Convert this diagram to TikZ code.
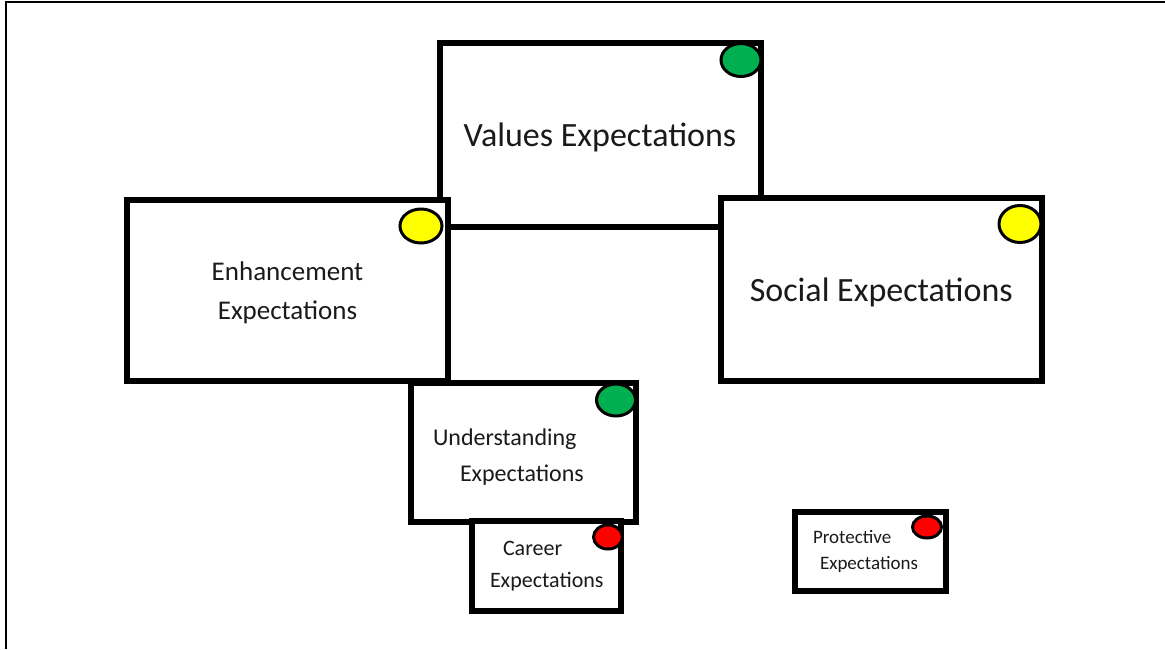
\documentclass[tikz,border=0pt]{standalone}
\usepackage{fontspec}
\setmainfont{Carlito}
\usepackage{tikz}
\usetikzlibrary{shapes.geometric, positioning, calc}
\definecolor{ink}{HTML}{1A1A1A}
\definecolor{go}{HTML}{00B050}
\definecolor{caution}{HTML}{FFFF00}
\definecolor{halt}{HTML}{FF0000}
\tikzset{
  card/.style ={draw=black, line width=6pt, fill=white, inner sep=0pt,
                align=center, text=ink},
  cardl/.style={card, align=left},
  dot/.style  ={ellipse, draw=black, line width=3pt, inner sep=0pt},
  dotg/.style ={dot, fill=go},
  doty/.style ={dot, fill=caution},
  dotr/.style ={dot, fill=halt}
}

\begin{document}
\begin{tikzpicture}[x=1pt, y=-1pt]
  \useasboundingbox (0,0) rectangle (1165,649);
  \draw[line width=2.3pt] (1165,2) -- (6,2) -- (6,649);

  % Top row
  \node[card, minimum width=321pt, minimum height=184pt, text depth=0pt,
        font=\fontsize{34}{40}\selectfont] (values) at (600,134.5) {Values Expectations};
  \node[dotg, minimum width=40pt, minimum height=33pt]
        at ($(values.north east)+(-22.5,20.5)$) (valuesdot) {};

  \node[card, minimum width=321pt, minimum height=181pt, text depth=-4pt,
        font=\fontsize{27}{39}\selectfont] (enhance) at (287.5,290.5) {Enhancement\\Expectations};
  \node[doty, minimum width=42pt, minimum height=34pt]
        at ($(enhance.north east)+(-30,29)$) (enhancedot) {};

  \node[card, minimum width=321.5pt, minimum height=183pt, text depth=0pt,
        font=\fontsize{34}{40}\selectfont] (social) at (881.25,289.5) {Social Expectations};
  \node[doty, minimum width=42pt, minimum height=37pt]
        at ($(social.north east)+(-25,29)$) (socialdot) {};

  % Lower row
  \node[cardl, minimum width=224.5pt, minimum height=139.5pt, text depth=30pt,
        inner xsep=22pt, text width=180.5pt,
        font=\fontsize{24}{36}\selectfont] (under) at (523.25,452.25)
        {Understanding\\\hspace*{27pt}Expectations};
  \node[dotg, minimum width=39pt, minimum height=32pt]
        at ($(under.north east)+(-22.5,20.5)$) (underdot) {};

  \node[cardl, minimum width=149pt, minimum height=90pt,
        inner xsep=18.5pt, text width=112pt,
        font=\fontsize{22}{32}\selectfont] (career) at (546,566)
        {\hspace*{13pt}Career\\Expectations};
  \node[dotr, minimum width=29pt, minimum height=24pt]
        at ($(career.north east)+(-15.5,19)$) (careerdot) {};

  \node[cardl, minimum width=150.5pt, minimum height=79pt,
        inner xsep=18pt, text width=114.5pt,
        font=\fontsize{19}{26}\selectfont] (protect) at (870.25,551)
        {Protective\\\hspace*{7pt}Expectations};
  \node[dotr, minimum width=29pt, minimum height=22pt]
        at ($(protect.north east)+(-21.5,18.5)$) (protectdot) {};
\end{tikzpicture}
\end{document}
